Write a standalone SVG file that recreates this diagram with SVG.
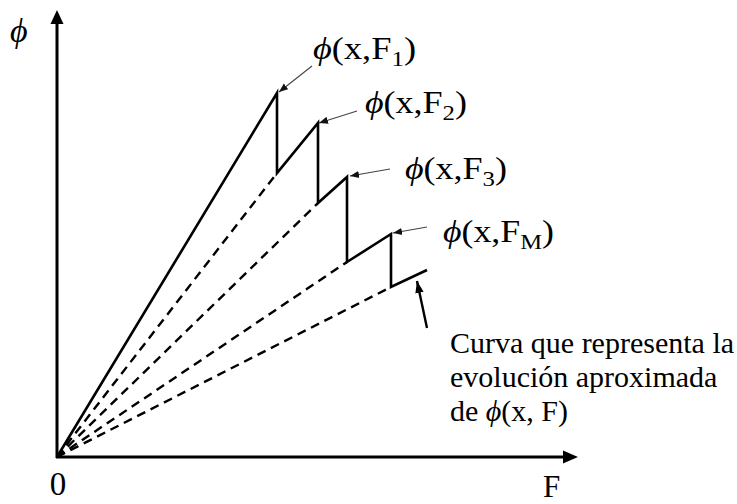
<svg xmlns="http://www.w3.org/2000/svg" width="737" height="504" viewBox="0 0 737 504">
  <style>
    .ax { stroke: #000; stroke-width: 3; fill: none; }
    .solid { stroke: #000; stroke-width: 2.6; fill: none; stroke-linejoin: miter; }
    .dash { stroke: #000; stroke-width: 2.4; fill: none; stroke-dasharray: 9 6; }
    .lead { stroke: #444; stroke-width: 1.1; fill: none; }
    .tm { font-family: "Liberation Serif", "DejaVu Serif", serif; fill: #000; }
    .phi { font-style: italic; }
  </style>
  <defs>
    <marker id="smallHead" viewBox="0 0 10 10" refX="10" refY="5" markerWidth="9" markerHeight="9" markerUnits="userSpaceOnUse" orient="auto">
      <path d="M0,1 L10,5 L0,9 Z" fill="#111"/>
    </marker>
    <marker id="boldHead" viewBox="0 0 10 10" refX="10" refY="5" markerWidth="12" markerHeight="12" markerUnits="userSpaceOnUse" orient="auto">
      <path d="M0,1.5 L10,5 L0,8.5 Z" fill="#000"/>
    </marker>
  </defs>

  <g id="axes">
    <line class="ax" x1="57" y1="458" x2="57" y2="22"/>
    <path d="M57,10 L63.5,24 L50.5,24 Z" fill="#000"/>
    <line class="ax" x1="56" y1="457" x2="565" y2="457"/>
    <path d="M578,457 L563,450.5 L563,463.5 Z" fill="#000"/>
    <text class="tm phi" x="10" y="42" font-size="34">ϕ</text>
    <text class="tm" x="58" y="495" font-size="33" text-anchor="middle">0</text>
    <text class="tm" x="543" y="497" font-size="31">F</text>
  </g>

  <g id="connectors">
    <g id="dashed-lines">
      <line class="dash" x1="57" y1="457" x2="277" y2="173"/>
      <line class="dash" x1="57" y1="457" x2="318" y2="203"/>
      <line class="dash" x1="57" y1="457" x2="347" y2="262"/>
      <line class="dash" x1="57" y1="457" x2="391" y2="287"/>
    </g>
    <polyline id="curve" class="solid" points="57,457 277,93 277,173 318,123 318,203 347,177 347,262 391,234 391,287 427,270"/>
    <g id="leaders">
      <line class="lead" x1="312" y1="66" x2="279" y2="92" marker-end="url(#smallHead)"/>
      <line class="lead" x1="357" y1="111" x2="319" y2="123" marker-end="url(#smallHead)"/>
      <line class="lead" x1="390" y1="169" x2="350" y2="176" marker-end="url(#smallHead)"/>
      <line class="lead" x1="427" y1="227" x2="393" y2="233" marker-end="url(#smallHead)"/>
      <line x1="427" y1="328" x2="417" y2="281" stroke="#000" stroke-width="2.4" marker-end="url(#boldHead)"/>
    </g>
  </g>

  <g id="label-F1">
    <text class="tm" x="313" y="59" font-size="32" textLength="103" lengthAdjust="spacingAndGlyphs"><tspan class="phi">ϕ</tspan>(x,F<tspan font-size="22" dy="7">1</tspan><tspan dy="-7">)</tspan></text>
  </g>
  <g id="label-F2">
    <text class="tm" x="365" y="113" font-size="32" textLength="102" lengthAdjust="spacingAndGlyphs"><tspan class="phi">ϕ</tspan>(x,F<tspan font-size="22" dy="7">2</tspan><tspan dy="-7">)</tspan></text>
  </g>
  <g id="label-F3">
    <text class="tm" x="405" y="179" font-size="32" textLength="102" lengthAdjust="spacingAndGlyphs"><tspan class="phi">ϕ</tspan>(x,F<tspan font-size="22" dy="7">3</tspan><tspan dy="-7">)</tspan></text>
  </g>
  <g id="label-FM">
    <text class="tm" x="443" y="242" font-size="32" textLength="111" lengthAdjust="spacingAndGlyphs"><tspan class="phi">ϕ</tspan>(x,F<tspan font-size="22" dy="7">M</tspan><tspan dy="-7">)</tspan></text>
  </g>

  <g id="caption">
    <text class="tm" x="450" y="353" font-size="30">Curva que representa la</text>
    <text class="tm" x="450" y="387" font-size="30">evolución aproximada</text>
    <text class="tm" x="450" y="421" font-size="30">de <tspan class="phi">ϕ</tspan>(x, F)</text>
  </g>
</svg>
